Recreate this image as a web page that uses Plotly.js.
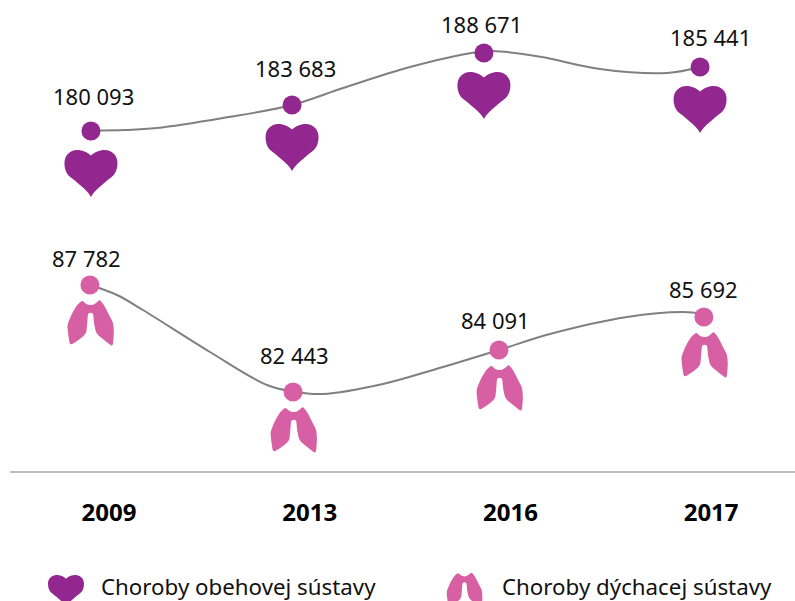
<!DOCTYPE html>
<html><head><meta charset="utf-8">
<script src="https://cdn.plot.ly/plotly-3.0.1.min.js"></script>
<style>html,body{margin:0;padding:0;background:#fff;overflow:hidden}</style>
</head><body><div id="chart" style="width:795px;height:601px"></div>
<script>
// The reference is an infographic whose point heights are not proportional to the printed numbers,
// so the printed values and the heights read off the picture are kept separately.
const years = ['2009', '2013', '2016', '2017'];
const slots = [0, 1, 2, 3];
const heartLabels = ['180 093', '183 683', '188 671', '185 441'];
const lungLabels = ['87 782', '82 443', '84 091', '85 692'];
const heartSlot = [-0.09, 0.912, 1.868, 2.945];
const lungSlot = [-0.095, 0.917, 1.943, 2.964];
const heartLevel = [340, 366, 418, 404];
const lungLevel = [186, 79, 121, 154];
// Course of the two curves
const heartCurveSlot = [-0.09, 0.08, 0.239, 0.568, 0.912, 1.166, 1.5, 1.814, 1.913, 2.148, 2.446, 2.78, 2.945];
const heartCurveLevel = [340.5, 341, 343, 353, 366, 383, 404, 418.3, 420, 414.3, 402, 398, 404];
const lungCurveSlot = [-0.095, 0.04, 0.169, 0.503, 0.787, 0.917, 1.066, 1.365, 1.614, 1.943, 2.197, 2.581, 2.86, 2.964];
const lungCurveLevel = [186, 176, 161, 119, 86, 79.5, 77, 87, 101, 121, 137, 154, 159, 157];
const heartLabelDx = [3, 3, -2, 10];
const heartLabelDy = [35, 37, 29, 30];
const lungLabelDx = [-3, 1, -3, 0];
const lungLabelDy = [27, 37, 30, 28];
const seriesNames = ['Choroby obehovej sústavy', 'Choroby dýchacej sústavy'];
const heartColor = '#92278f', lungColor = '#d75fa3', curveColor = '#808080';
const fontName = '"Noto Sans","Open Sans",sans-serif';

// Icon outlines: offsets in px from the icon's anchor (x right, y down)
function heartPath(s, oy) {
  const p = (x, y) => (x * s) + ',' + (-(y * s + oy));
  return 'M' + p(0, 5.5) +
    'C' + p(3, 2.5) + ' ' + p(8, 0) + ' ' + p(14, 0) +
    'C' + p(21, 0) + ' ' + p(26.5, 5.5) + ' ' + p(26.5, 13) +
    'C' + p(26.5, 20) + ' ' + p(24, 24.5) + ' ' + p(20.7, 27) +
    'C' + p(17, 30) + ' ' + p(14, 32) + ' ' + p(11, 35) +
    'C' + p(6, 39) + ' ' + p(2, 43) + ' ' + p(0, 47) +
    'C' + p(-2, 43) + ' ' + p(-6, 39) + ' ' + p(-11, 35) +
    'C' + p(-14, 32) + ' ' + p(-17, 30) + ' ' + p(-20.7, 27) +
    'C' + p(-24, 24.5) + ' ' + p(-26.5, 20) + ' ' + p(-26.5, 13) +
    'C' + p(-26.5, 5.5) + ' ' + p(-21, 0) + ' ' + p(-14, 0) +
    'C' + p(-8, 0) + ' ' + p(-3, 2.5) + ' ' + p(0, 5.5) + 'Z';
}
const lungOutline = [[0.7,3.3],[5,2],[9.7,-2.4],[14,2.7],[19,12.7],[23.3,21],[24,31],[22.8,45],[14,37.7],[6.3,31.7],[4,21],[3.3,11.5],[0.7,10.7],[-2,11.5],[-2.7,21],[-3.7,31.7],[-11,37.7],[-20,43.5],[-21.7,32.7],[-22.7,22.7],[-17.7,11],[-12.7,2.7],[-7.7,-1.5],[-3.7,2]];
function lungPath(s, oy) {
  const n = lungOutline.length, t = 0.3;
  const pt = (x, y) => (x * s) + ',' + (-(y * s + oy));
  const toward = (a, b) => pt(a[0] + (b[0] - a[0]) * t, a[1] + (b[1] - a[1]) * t);
  let d = '';
  for (let i = 0; i < n; i++) {
    const c = lungOutline[i], prev = lungOutline[(i + n - 1) % n], next = lungOutline[(i + 1) % n];
    d += (i ? 'L' : 'M') + toward(c, prev) + 'Q' + pt(c[0], c[1]) + ' ' + toward(c, next);
  }
  return d + 'Z';
}
function anchored(path, color, x, y) {
  return {type: 'path', xref: 'x', yref: 'y', xsizemode: 'pixel', ysizemode: 'pixel',
    xanchor: x, yanchor: y, path: path, fillcolor: color, line: {width: 0}};
}
function legendIcon(path, color, px, py) {
  return {type: 'path', xref: 'paper', yref: 'paper', xsizemode: 'pixel', ysizemode: 'pixel',
    xanchor: (px - 10) / 785, yanchor: (471 - py) / 471, path: path, fillcolor: color, line: {width: 0}};
}
function curveTrace(xs, ys) {
  return {x: xs, y: ys, mode: 'lines', type: 'scatter', hoverinfo: 'skip', showlegend: false,
    line: {shape: 'spline', smoothing: 1, color: curveColor, width: 2}};
}
function pointTrace(xs, ys, color) {
  return {x: xs, y: ys, mode: 'markers', type: 'scatter', hoverinfo: 'skip', showlegend: false,
    marker: {size: 19, color: color, line: {width: 0}}};
}
const shapes = [];
heartSlot.forEach((x, i) => shapes.push(anchored(heartPath(1, 19), heartColor, x, heartLevel[i])));
lungSlot.forEach((x, i) => shapes.push(anchored(lungPath(1, 17), lungColor, x, lungLevel[i])));
shapes.push(legendIcon(heartPath(0.68, 0), heartColor, 66, 575));
shapes.push(legendIcon(lungPath(0.77, 0), lungColor, 464, 574));

const annotations = [];
function addLabels(xs, ys, texts, dx, dy) {
  texts.forEach((t, i) => annotations.push({x: xs[i], y: ys[i], text: t, showarrow: false,
    xanchor: 'center', yanchor: 'middle', xshift: dx[i], yshift: dy[i],
    font: {family: fontName, size: 22, color: '#111'}}));
}
addLabels(heartSlot, heartLevel, heartLabels, heartLabelDx, heartLabelDy);
addLabels(lungSlot, lungLevel, lungLabels, lungLabelDx, lungLabelDy);
[[99, seriesNames[0]], [500, seriesNames[1]]].forEach(a => annotations.push({
  xref: 'paper', yref: 'paper', x: (a[0] - 10) / 785, y: (471 - 586) / 471, text: a[1], showarrow: false,
  xanchor: 'left', yanchor: 'middle', font: {family: fontName, size: 22.3, color: '#111'}}));

Plotly.newPlot('chart', [
  curveTrace(heartCurveSlot, heartCurveLevel), curveTrace(lungCurveSlot, lungCurveLevel),
  pointTrace(heartSlot, heartLevel, heartColor), pointTrace(lungSlot, lungLevel, lungColor)
], {
  width: 795, height: 601, margin: {l: 10, r: 0, t: 0, b: 130}, paper_bgcolor: '#fff', plot_bgcolor: '#fff',
  showlegend: false,
  xaxis: {range: [-0.4933, 3.418], tickmode: 'array', tickvals: slots, ticktext: years, showgrid: false, zeroline: false,
    showline: true, linecolor: '#bfbfbf', linewidth: 2, ticks: '', ticklabelstandoff: 19,
    tickfont: {family: fontName, size: 24, color: '#000', weight: 700}},
  yaxis: {range: [0, 471], visible: false, showgrid: false, zeroline: false},
  shapes: shapes, annotations: annotations
}, {displayModeBar: false, staticPlot: true});
</script></body></html>
